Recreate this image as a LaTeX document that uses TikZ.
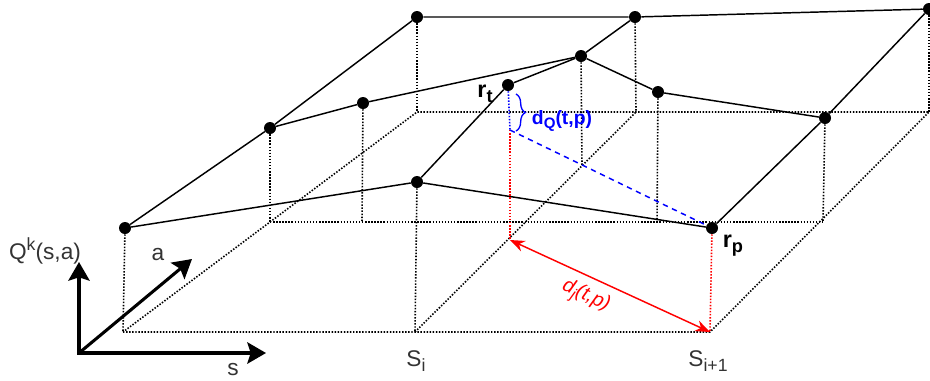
\documentclass[tikz,border=0pt]{standalone}
\usepackage{fontspec}
\setmainfont{Liberation Sans}
\usetikzlibrary{arrows.meta,decorations.pathreplacing}
\definecolor{Ink}{HTML}{333333}
\definecolor{Red}{HTML}{FF0000}
\definecolor{Blue}{HTML}{0000FF}
\newcommand\lowtxt[1]{\raisebox{-0.4ex}{\scalebox{0.78}{#1}}}
\newcommand\hightxt[1]{\raisebox{0.75ex}{\scalebox{0.78}{#1}}}

\begin{document}
\begin{tikzpicture}[x=0.75pt,y=-0.75pt,>=Stealth,
    dot/.style={circle,fill=black,inner sep=0pt,minimum size=9pt},
    surf/.style={line width=1.1pt},
    grid/.style={line width=1.2pt,dash pattern=on 1.1pt off 1.2pt},
    axis/.style={line width=2.3pt},
    lbl/.style={text=Ink,font=\fontsize{17}{20}\selectfont},
    rlbl/.style={font=\fontsize{17.5}{20}\selectfont\bfseries}]
  \useasboundingbox (0,0) rectangle (930,380);
  \coordinate (b00) at (123,332);
  \coordinate (b10) at (415,332);
  \coordinate (b20) at (710,332);
  \coordinate (b01) at (270,222);
  \coordinate (b21) at (823,222);
  \coordinate (b02) at (417,112);
  \coordinate (b12) at (636,112);
  \coordinate (b22) at (929,112);
  \coordinate (f1) at (362,222);
  \coordinate (f2) at (582,166);
  \coordinate (f3) at (657,222);
  \coordinate (qfoot) at (510,130);
  \coordinate (jfoot) at (510,240);
  \coordinate (brtop) at (516,94);
  \coordinate (brbot) at (516,131);
  \coordinate (o) at (79,353);
  \coordinate (qtip) at (79,262);
  \coordinate (stip) at (266,353);
  \coordinate (atip) at (192,259);
  \draw[grid] (b00) -- (b20) -- (b22) -- (b02) -- cycle;
  \draw[grid] (b01) -- (b21);
  \draw[grid] (b10) -- (b12);
  \node[dot] (n00) at (125,228) {};
  \node[dot] (n01) at (270,128) {};
  \node[dot] (n02) at (417,17) {};
  \node[dot] (n10) at (417,182) {};
  \node[dot] (m1) at (363,103) {};
  \node[dot] (rt) at (508,85) {};
  \node[dot] (m2) at (581,56) {};
  \node[dot] (n12) at (635,17) {};
  \node[dot] (m3) at (658,92) {};
  \node[dot] (rp) at (712,228) {};
  \node[dot] (n21) at (825,118) {};
  \node[dot] (n22) at (929,9) {};
  \draw[grid] (n00) -- (b00);
  \draw[grid] (n01) -- (b01);
  \draw[grid] (n02) -- (b02);
  \draw[grid] (n10) -- (b10);
  \draw[grid] (m1) -- (f1);
  \draw[grid] (m2) -- (f2);
  \draw[grid] (n12) -- (b12);
  \draw[grid] (m3) -- (f3);
  \draw[grid] (n21) -- (b21);
  \draw[grid] (n22) -- (b22);
  \draw[surf] (n00) -- (n01) -- (n02) -- (n12) -- (n22) -- (n21) -- (rp) -- (n10) -- (n00);
  \draw[surf] (n01) -- (m1) -- (m2) -- (m3) -- (n21);
  \draw[surf] (n10) -- (rt) -- (m2) -- (n12);
  \draw[grid,Blue] (rt) -- (qfoot);
  \draw[grid,Red] (qfoot) -- (jfoot);
  \draw[grid,Red] (rp) -- (b20);
  \draw[Blue,line width=1.1pt,dash pattern=on 4pt off 3.5pt] (qfoot) -- (rp);
  \draw[Blue,line width=1pt,decorate,decoration={brace,amplitude=7pt}] (brtop) -- (brbot);
  \node[Blue,font=\fontsize{14.5}{17}\selectfont\bfseries] (dq) at (562,121) {d\lowtxt{Q}(t,p)};
  \draw[Red,line width=1.1pt,{Stealth[length=11pt,width=8.5pt]}-{Stealth[length=11pt,width=8.5pt]}] (jfoot) -- node[sloped,below=3pt,pos=0.42,font=\fontsize{15}{18}\selectfont\itshape] (dj) {d\lowtxt{j}(t,p)} (b20);
  \draw[axis,{Stealth[length=14pt,width=16pt,inset=2.5pt]}-{Stealth[length=14pt,width=16pt,inset=2.5pt]}] (qtip) -- (o) -- (stip);
  \draw[axis,-{Stealth[length=14pt,width=16pt,inset=2.5pt]}] (o) -- (atip);
  \node[lbl] (qlab) at (45,251) {Q\hightxt{k}(s,a)};
  \node[lbl] (alab) at (158,255) {a};
  \node[lbl] (slab) at (233,370) {s};
  \node[lbl] (si) at (416,361) {S\lowtxt{i}};
  \node[lbl] (si1) at (708,361) {S\lowtxt{i+1}};
  \node[rlbl] (rtlab) at (485,94) {r\lowtxt{t}};
  \node[rlbl] (rplab) at (733,246) {r\lowtxt{p}};
\end{tikzpicture}
\end{document}
